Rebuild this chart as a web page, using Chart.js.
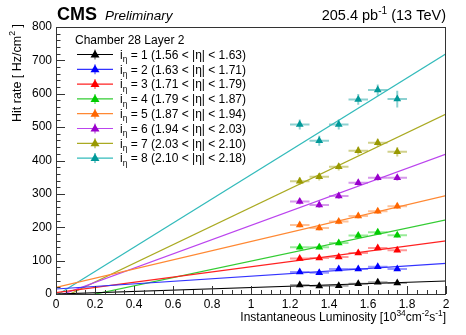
<!DOCTYPE html>
<html>
<head>
<meta charset="utf-8">
<script src="https://cdn.jsdelivr.net/npm/chart.js@4/dist/chart.umd.min.js"></script>
<style>
  html, body { margin: 0; padding: 0; background: #fff; }
  #c { display: block; }
</style>
</head>
<body>
<canvas id="c" width="466" height="335"></canvas>
<script>
// luminosity bins (10^34 cm^-2 s^-1)
const lumi = [1.25, 1.35, 1.45, 1.55, 1.65, 1.75];
const lumiErr = 0.05;

// hit rates per eta partition (Hz/cm^2)
const rate1 = [27, 24, 25, 31, 35, 33];
const rate2 = [66, 64, 75, 75, 82, 75];
const rate3 = [106, 108, 111, 123, 138, 131];
const rate4 = [140, 140, 153, 175, 185, 176];
const rate5 = [207, 198, 217, 234, 248, 263];
const rate6 = [277, 267, 294, 333, 348, 348];
const rate7 = [338, 351, 381, 429, 453, 426];
const rate8 = [508, 459, 508, 583, 611, 584];

// vertical errors
const err1 = [4, 4, 4, 4, 4, 4];
const err2 = [5, 5, 5, 5, 5, 5];
const err3 = [6, 6, 6, 6, 6, 6];
const err4 = [7, 7, 7, 7, 7, 7];
const err5 = [8, 8, 8, 8, 8, 8];
const err6 = [9, 9, 9, 9, 9, 9];
const err7 = [11, 11, 11, 12, 12, 14];
const err8 = [15, 15, 15, 16, 17, 25];

// linear fits: value at lumi 0 and at lumi 2
const fitAt0 = [0, 15, 4, -25, 20, -8, -20, -5];
const fitAt2 = [39, 92, 159, 222, 295, 419, 539, 720];
const fitX = [0, 2];

const etaIndex = ['1', '2', '3', '4', '5', '6', '7', '8'];
const etaRange = ['1.56 < |η| < 1.63', '1.63 < |η| < 1.71', '1.71 < |η| < 1.79', '1.79 < |η| < 1.87',
                  '1.87 < |η| < 1.94', '1.94 < |η| < 2.03', '2.03 < |η| < 2.10', '2.10 < |η| < 2.18'];

const rates = [rate1, rate2, rate3, rate4, rate5, rate6, rate7, rate8];
const errs = [err1, err2, err3, err4, err5, err6, err7, err8];

const markerColors = ['#000000', '#0000ff', '#ff0000', '#00cc00', '#ff6600', '#9900cc', '#999900', '#009999'];
const lineColors = ['#000000', '#3333ff', '#ff2222', '#33cc33', '#ff8833', '#bb44ee', '#aaaa22', '#33bbbb'];
const barColors = ['rgba(0,0,0,0.35)', 'rgba(0,0,255,0.4)', 'rgba(255,0,0,0.4)', 'rgba(0,204,0,0.4)',
                   'rgba(255,102,0,0.4)', 'rgba(153,0,204,0.4)', 'rgba(153,153,0,0.45)', 'rgba(0,153,153,0.45)'];

const FONT = '"Liberation Sans", Arial, Helvetica, sans-serif';

const datasets = [];
rates.forEach((r, i) => {
    datasets.push({
        type: 'scatter',
        data: lumi.map((x, j) => ({ x: x, y: r[j] })),
        pointStyle: 'triangle',
        pointRadius: 4.5,
        backgroundColor: markerColors[i],
        borderColor: markerColors[i],
        borderWidth: 0,
        order: 1
    });
});
rates.forEach((r, i) => {
    datasets.push({
        type: 'line',
        data: fitX.map((x, j) => ({ x: x, y: j === 0 ? fitAt0[i] : fitAt2[i] })),
        borderColor: lineColors[i],
        borderWidth: 1.2,
        pointRadius: 0,
        fill: false,
        order: 2
    });
});

// text with superscripts / subscripts: parts = [[text, 'n'|'sup'|'sub'], ...]
function richWidth(ctx, parts, size, style) {
    let w = 0;
    parts.forEach(p => {
        const s = p[1] === 'n' ? size : size * 0.7;
        ctx.font = style + ' ' + s + 'px ' + FONT;
        w += ctx.measureText(p[0]).width;
    });
    return w;
}
function richText(ctx, parts, x, y, size, style) {
    ctx.textBaseline = 'alphabetic';
    ctx.textAlign = 'left';
    parts.forEach(p => {
        const s = p[1] === 'n' ? size : size * 0.7;
        const dy = p[1] === 'sup' ? -size * 0.42 : (p[1] === 'sub' ? size * 0.28 : 0);
        ctx.font = style + ' ' + s + 'px ' + FONT;
        ctx.fillText(p[0], x, y + dy);
        x += ctx.measureText(p[0]).width;
    });
}

const rootStyle = {
    id: 'rootStyle',
    beforeDatasetsDraw(chart) {
        const ctx = chart.ctx;
        const xs = chart.scales.x, ys = chart.scales.y;
        const a = chart.chartArea;
        ctx.save();
        ctx.beginPath();
        ctx.rect(a.left, a.top, a.right - a.left, a.bottom - a.top);
        ctx.clip();
        // error bars
        rates.forEach((r, i) => {
            ctx.strokeStyle = barColors[i];
            ctx.lineWidth = 2;
            lumi.forEach((x, j) => {
                const px = xs.getPixelForValue(x), py = ys.getPixelForValue(r[j]);
                ctx.beginPath();
                ctx.moveTo(xs.getPixelForValue(x - lumiErr), py);
                ctx.lineTo(xs.getPixelForValue(x + lumiErr), py);
                ctx.moveTo(px, ys.getPixelForValue(r[j] - errs[i][j]));
                ctx.lineTo(px, ys.getPixelForValue(r[j] + errs[i][j]));
                ctx.stroke();
            });
        });
        ctx.restore();
    },
    afterDraw(chart) {
        const ctx = chart.ctx;
        const xs = chart.scales.x, ys = chart.scales.y;
        const a = chart.chartArea;
        ctx.save();
        // frame
        ctx.strokeStyle = '#333';
        ctx.lineWidth = 1;
        ctx.strokeRect(a.left + 0.5, a.top + 0.5, a.right - a.left - 1, a.bottom - a.top);
        // inward ticks
        ctx.beginPath();
        for (let v = 0; v <= 800; v += 20) {
            const py = Math.round(ys.getPixelForValue(v)) + 0.5;
            const len = v % 100 === 0 ? 9 : 4.5;
            ctx.moveTo(a.left, py);
            ctx.lineTo(a.left + len, py);
        }
        for (let k = 0; k <= 40; k++) {
            const px = Math.round(xs.getPixelForValue(k * 0.05)) + 0.5;
            const len = k % 4 === 0 ? 8 : 4;
            ctx.moveTo(px, a.bottom);
            ctx.lineTo(px, a.bottom - len);
        }
        ctx.stroke();

        ctx.fillStyle = '#000';
        // header
        ctx.font = 'bold 18px ' + FONT;
        ctx.textAlign = 'left';
        ctx.textBaseline = 'alphabetic';
        ctx.fillText('CMS', a.left + 1, 20);
        ctx.font = 'italic 13.5px ' + FONT;
        ctx.fillText('Preliminary', a.left + 49, 20);
        const lumiParts = [['205.4 pb', 'n'], ['-1', 'sup'], [' (13 TeV)', 'n']];
        const lw = richWidth(ctx, lumiParts, 14.5, '');
        richText(ctx, lumiParts, a.right - lw, 20, 14.5, '');

        // x title
        const xt = [['Instantaneous Luminosity [10', 'n'], ['34', 'sup'], ['cm', 'n'], ['-2', 'sup'],
                    ['s', 'n'], ['-1', 'sup'], [']', 'n']];
        const xw = richWidth(ctx, xt, 12, '');
        richText(ctx, xt, a.right - xw, 321, 12, '');

        // y title
        const yt = [['Hit rate [ Hz/cm', 'n'], ['2', 'sup'], [' ]', 'n']];
        const yw = richWidth(ctx, yt, 12.5, '');
        ctx.save();
        ctx.translate(20.5, a.top - 3);
        ctx.rotate(-Math.PI / 2);
        richText(ctx, yt, -yw, 0, 12.5, '');
        ctx.restore();

        // legend
        ctx.font = '12px ' + FONT;
        ctx.fillText('Chamber 28 Layer 2', 75, 43.5);
        etaIndex.forEach((n, i) => {
            const cy = 54.5 + i * 14.8;
            ctx.strokeStyle = lineColors[i];
            ctx.lineWidth = 1.2;
            ctx.beginPath();
            ctx.moveTo(77, cy);
            ctx.lineTo(113, cy);
            ctx.stroke();
            ctx.strokeStyle = barColors[i];
            ctx.lineWidth = 2;
            ctx.beginPath();
            ctx.moveTo(95, cy - 5);
            ctx.lineTo(95, cy + 5);
            ctx.stroke();
            ctx.fillStyle = markerColors[i];
            ctx.beginPath();
            ctx.moveTo(95, cy - 4.5);
            ctx.lineTo(99.5, cy + 3);
            ctx.lineTo(90.5, cy + 3);
            ctx.closePath();
            ctx.fill();
            ctx.fillStyle = '#000';
            richText(ctx, [['i', 'n'], ['η', 'sub'], [' = ' + n + ' (' + etaRange[i] + ')', 'n']],
                     120, cy + 4.3, 12, '');
        });
        ctx.restore();
    }
};

new Chart(document.getElementById('c'), {
    data: { datasets: datasets },
    options: {
        responsive: false,
        animation: false,
        layout: { padding: { top: 27, right: 20, left: 0, bottom: 0 } },
        plugins: {
            legend: { display: false },
            tooltip: { enabled: false }
        },
        scales: {
            x: {
                type: 'linear',
                min: 0,
                max: 2,
                grid: { display: false, drawTicks: false, tickLength: 0 },
                border: { display: false },
                afterFit: (s) => { s.height = 41; },
                ticks: {
                    stepSize: 0.2,
                    padding: 3,
                    color: '#000',
                    maxRotation: 0,
                    font: { family: FONT, size: 12 },
                    callback: (v) => String(parseFloat(v.toFixed(1)))
                }
            },
            y: {
                min: 0,
                max: 800,
                grid: { display: false, drawTicks: false, tickLength: 0 },
                border: { display: false },
                afterFit: (s) => { s.width = 56; },
                ticks: {
                    stepSize: 100,
                    padding: 4,
                    color: '#000',
                    font: { family: FONT, size: 12 }
                }
            }
        }
    },
    plugins: [rootStyle]
});
</script>
</body>
</html>
